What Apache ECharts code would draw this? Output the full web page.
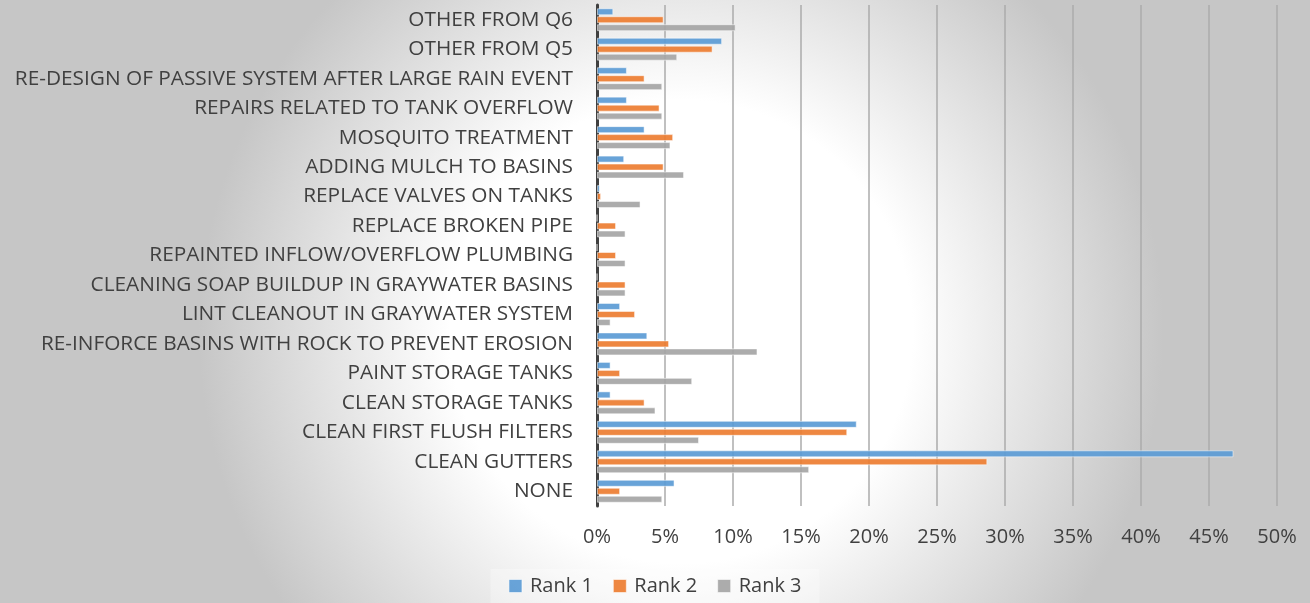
<!DOCTYPE html>
<html>
<head>
<meta charset="utf-8">
<script src="https://cdn.jsdelivr.net/npm/echarts@6/dist/echarts.min.js"></script>
<style>
  html, body { margin: 0; padding: 0; }
  #chart { width: 1310px; height: 603px; }
</style>
</head>
<body>
<div id="chart"></div>
<script>
// categories listed top to bottom
const categories = [
  'OTHER FROM Q6',
  'OTHER FROM Q5',
  'RE-DESIGN OF PASSIVE SYSTEM AFTER LARGE RAIN EVENT',
  'REPAIRS RELATED TO TANK OVERFLOW',
  'MOSQUITO TREATMENT',
  'ADDING MULCH TO BASINS',
  'REPLACE VALVES ON TANKS',
  'REPLACE BROKEN PIPE',
  'REPAINTED INFLOW/OVERFLOW PLUMBING',
  'CLEANING SOAP BUILDUP IN GRAYWATER BASINS',
  'LINT CLEANOUT IN GRAYWATER SYSTEM',
  'RE-INFORCE BASINS WITH ROCK TO PREVENT EROSION',
  'PAINT STORAGE TANKS',
  'CLEAN STORAGE TANKS',
  'CLEAN FIRST FLUSH FILTERS',
  'CLEAN GUTTERS',
  'NONE'
]

const rank1 = [1.2, 9.2, 2.2, 2.2, 3.5, 2.0, 0.2, 0, 0, 0, 1.7, 3.7, 1.0, 1.0, 19.1, 46.8, 5.7]
const rank2 = [4.9, 8.5, 3.5, 4.6, 5.6, 4.9, 0.3, 1.4, 1.4, 2.1, 2.8, 5.3, 1.7, 3.5, 18.4, 28.7, 1.7]
const rank3 = [10.2, 5.9, 4.8, 4.8, 5.4, 6.4, 3.2, 2.1, 2.1, 2.1, 1.0, 11.8, 7.0, 4.3, 7.5, 15.6, 4.8]

const seriesNames = ['Rank 1', 'Rank 2', 'Rank 3']
const colors = ['#5b9bd5', '#ed7d31', '#a5a5a5']

const chart = echarts.init(document.getElementById('chart'))

function barSeries(name, data, color) {
  return {
    name: name,
    type: 'bar',
    data: data,
    barWidth: 7,
    barGap: '14%',
    itemStyle: {
      color: color,
      opacity: 0.92,
      borderColor: 'rgba(255,255,255,0.55)',
      borderWidth: 1
    }
  }
}

chart.setOption({
  backgroundColor: {
    type: 'radial', x: 0.52, y: 0.55, r: 0.8,
    colorStops: [
      {offset: 0, color: '#ffffff'},
      {offset: 0.48, color: '#ffffff'},
      {offset: 1, color: '#c6c6c6'}
    ]
  },
  textStyle: {fontFamily: 'Open Sans'},
  color: colors,
  grid: {left: 597, right: 33, top: 5, bottom: 97},
  legend: {
    bottom: 0,
    left: 'center',
    itemWidth: 13,
    itemHeight: 13,
    itemGap: 20,
    itemStyle: {borderColor: 'rgba(255,255,255,0.6)', borderWidth: 1},
    icon: 'rect',
    padding: [7, 18],
    backgroundColor: 'rgba(255,255,255,0.3)',
    textStyle: {fontSize: 20, color: '#404040', padding: [0, 0, 0, 3]},
    data: seriesNames
  },
  xAxis: {
    type: 'value',
    min: 0,
    max: 50,
    interval: 5,
    axisLine: {show: false},
    axisTick: {show: false},
    axisLabel: {
      formatter: '{value}%',
      fontSize: 20,
      color: '#404040',
      margin: 21
    },
    splitLine: {lineStyle: {color: '#ababab', width: 1.5}}
  },
  yAxis: {
    type: 'category',
    inverse: true,
    data: categories,
    axisLine: {lineStyle: {color: '#404040', width: 3}},
    axisTick: {show: false},
    axisLabel: {fontSize: 20.8, color: '#404040', margin: 24}
  },
  series: [
    barSeries(seriesNames[0], rank1, colors[0]),
    barSeries(seriesNames[1], rank2, colors[1]),
    barSeries(seriesNames[2], rank3, colors[2])
  ]
})
</script>
</body>
</html>
